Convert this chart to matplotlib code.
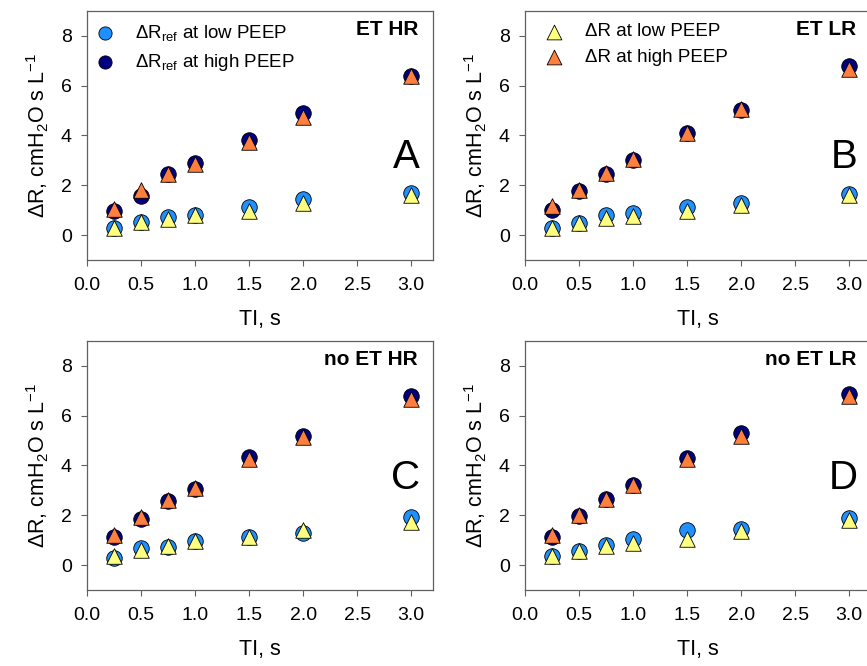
import numpy as np
import matplotlib
matplotlib.use('Agg')
import matplotlib.pyplot as plt

plt.rcParams['font.family'] = ['Liberation Sans', 'DejaVu Sans']
plt.rcParams['mathtext.fontset'] = 'custom'
plt.rcParams['mathtext.rm'] = 'Liberation Sans'
plt.rcParams['mathtext.it'] = 'Liberation Sans:italic'

# inspiratory time, s
ti = [0.25, 0.5, 0.75, 1.0, 1.5, 2.0, 3.0]

panels = ['A', 'B', 'C', 'D']
titles = ['ET HR', 'ET LR', 'no ET HR', 'no ET LR']

# reference resistance (circles)
ref_low = {
    'A': [0.29, 0.51, 0.71, 0.82, 1.14, 1.43, 1.70],
    'B': [0.29, 0.47, 0.80, 0.90, 1.11, 1.30, 1.67],
    'C': [0.27, 0.67, 0.74, 0.98, 1.11, 1.27, 1.94],
    'D': [0.36, 0.58, 0.80, 1.03, 1.41, 1.45, 1.90],
}
ref_high = {
    'A': [0.98, 1.57, 2.44, 2.88, 3.82, 4.92, 6.39],
    'B': [1.00, 1.78, 2.45, 3.02, 4.09, 5.03, 6.77],
    'C': [1.14, 1.84, 2.59, 3.04, 4.32, 5.19, 6.80],
    'D': [1.14, 1.97, 2.64, 3.22, 4.29, 5.30, 6.86],
}
# estimated resistance (triangles)
est_low = {
    'A': [0.27, 0.53, 0.64, 0.80, 0.98, 1.27, 1.60],
    'B': [0.27, 0.47, 0.68, 0.78, 0.98, 1.22, 1.60],
    'C': [0.38, 0.60, 0.75, 0.95, 1.12, 1.40, 1.75],
    'D': [0.35, 0.58, 0.75, 0.90, 1.05, 1.38, 1.82],
}
est_high = {
    'A': [1.04, 1.80, 2.45, 2.85, 3.75, 4.76, 6.37],
    'B': [1.15, 1.80, 2.50, 3.05, 4.10, 5.05, 6.65],
    'C': [1.20, 1.95, 2.60, 3.10, 4.25, 5.15, 6.65],
    'D': [1.20, 2.00, 2.65, 3.20, 4.25, 5.20, 6.80],
}

c_lblue = '#1E90FF'
c_navy = '#000080'
c_yellow = '#FFFF80'
c_orange = '#FF7F3F'

fig = plt.figure(figsize=(8.67, 6.66), dpi=100)

pos = {
    'A': [0.1003, 0.6096, 0.399, 0.374],
    'B': [0.6055, 0.6096, 0.399, 0.374],
    'C': [0.1003, 0.1141, 0.399, 0.374],
    'D': [0.6055, 0.1141, 0.399, 0.374],
}
letter_y = {'A': 0.415, 'B': 0.415, 'C': 0.45, 'D': 0.45}

ms = 125
for p, t in zip(panels, titles):
    ax = fig.add_axes(pos[p])
    ax.scatter(ti, ref_low[p], s=ms, marker='o', c=c_lblue, edgecolors='black', linewidths=0.6,
               label=r'ΔR$_{\mathrm{ref}}$ at low PEEP', zorder=3)
    ax.scatter(ti, ref_high[p], s=ms, marker='o', c=c_navy, edgecolors='black', linewidths=0.6,
               label=r'ΔR$_{\mathrm{ref}}$ at high PEEP', zorder=3)
    h3 = ax.scatter(ti, est_low[p], s=ms, marker='^', c=c_yellow, edgecolors='black', linewidths=0.6,
                    label='ΔR at low PEEP', zorder=4)
    h4 = ax.scatter(ti, est_high[p], s=ms, marker='^', c=c_orange, edgecolors='black', linewidths=0.6,
                    label='ΔR at high PEEP', zorder=4)

    ax.set_xlim(0, 3.2)
    ax.set_ylim(-1, 9)
    ax.set_xticks([0.0, 0.5, 1.0, 1.5, 2.0, 2.5, 3.0])
    ax.set_xticklabels(['0.0', '0.5', '1.0', '1.5', '2.0', '2.5', '3.0'])
    ax.set_yticks([0, 2, 4, 6, 8])
    ax.tick_params(axis='both', direction='out', length=4, width=0.8, color='#606060', labelsize=14)
    ax.tick_params(axis='x', pad=8)
    ax.tick_params(axis='y', pad=7)
    for s in ax.spines.values():
        s.set_color('#606060')
        s.set_linewidth(0.9)

    ax.set_xlabel('TI, s', fontsize=15.5, labelpad=11)
    ax.set_ylabel(r'ΔR, cmH$_2$O s L$^{-1}$', fontsize=15.5, labelpad=7)

    ax.text(0.957, 0.924, t, transform=ax.transAxes, ha='right', va='center',
            fontsize=15, fontweight='bold')
    ax.text(0.962, letter_y[p], p, transform=ax.transAxes, ha='right', va='center', fontsize=29)

    if p == 'A':
        hs, ls = ax.get_legend_handles_labels()
        ax.legend(hs[:2], ls[:2], loc='upper left', bbox_to_anchor=(-0.012, 1.0),
                  frameon=False, fontsize=13.5, handlelength=1.0, handletextpad=1.15,
                  labelspacing=0.45, borderpad=0.3, borderaxespad=0.36,
                  scatterpoints=1, markerscale=0.85)
    elif p == 'B':
        ax.legend([h3, h4], ['ΔR at low PEEP', 'ΔR at high PEEP'], loc='upper left',
                  bbox_to_anchor=(0.022, 1.0), frameon=False, fontsize=13.5, handlelength=1.0,
                  handletextpad=1.15, labelspacing=0.45, borderpad=0.3, borderaxespad=0.36,
                  scatterpoints=1, markerscale=0.95)

fig.savefig('out.png', dpi=100, facecolor='white')
